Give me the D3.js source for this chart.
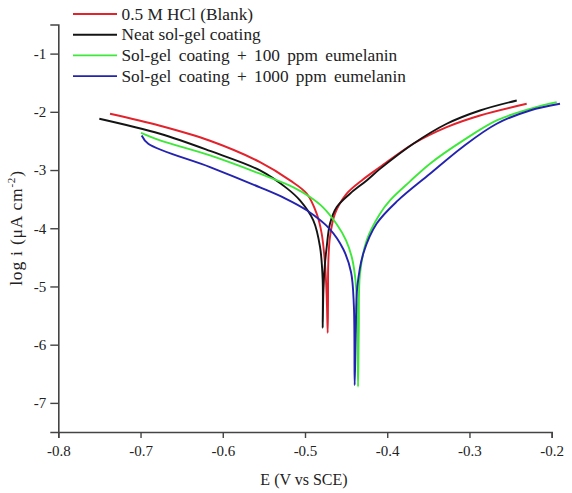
<!DOCTYPE html>
<html>
<head>
<meta charset="utf-8">
<script src="https://cdn.jsdelivr.net/npm/d3@7"></script>
<style>
  body { margin: 0; background: #fff; }
  text { font-family: "Liberation Serif", "Times New Roman", serif; fill: #222; }
</style>
</head>
<body>
<script>
// data: [E (V vs SCE), log i]
var blank = [
  [-0.7371, -2.033], [-0.6763, -2.239], [-0.6155, -2.497], [-0.5547, -2.864],
  [-0.5182, -3.178], [-0.4979, -3.406], [-0.4858, -3.749], [-0.4797, -4.092],
  [-0.4757, -4.606], [-0.4736, -5.179], [-0.4724, -5.797], [-0.472, -5.24],
  [-0.4717, -4.606], [-0.4696, -4.15], [-0.4635, -3.749], [-0.4493, -3.406],
  [-0.431, -3.178], [-0.4088, -2.949], [-0.3683, -2.548], [-0.3277, -2.263],
  [-0.2872, -2.063], [-0.2304, -1.862]
]
var neat = [
  [-0.7501, -2.119], [-0.6763, -2.377], [-0.6155, -2.672], [-0.5547, -3.006],
  [-0.5219, -3.315], [-0.5061, -3.521], [-0.4899, -3.864], [-0.4817, -4.322],
  [-0.4785, -4.893], [-0.4785, -5.711], [-0.4776, -5.064], [-0.4759, -4.636],
  [-0.4736, -4.322], [-0.4696, -3.92], [-0.4614, -3.636], [-0.4453, -3.406],
  [-0.425, -3.178], [-0.4088, -2.98], [-0.3683, -2.548], [-0.3277, -2.205],
  [-0.2872, -1.977], [-0.2425, -1.805]
]
var eu100 = [
  [-0.6994, -2.363], [-0.6763, -2.491], [-0.6155, -2.749], [-0.5547, -3.063],
  [-0.5146, -3.292], [-0.4939, -3.464], [-0.4781, -3.641], [-0.4614, -3.932],
  [-0.4501, -4.207], [-0.4428, -4.515], [-0.4386, -4.893], [-0.4364, -5.464],
  [-0.4355, -6.723], [-0.4346, -5.75], [-0.4331, -4.778], [-0.425, -4.207],
  [-0.4088, -3.749], [-0.3966, -3.521], [-0.3723, -3.195], [-0.348, -2.891],
  [-0.3075, -2.491], [-0.2669, -2.148], [-0.2264, -1.948], [-0.1939, -1.834]
]
var eu1000 = [
  [-0.6986, -2.406], [-0.6906, -2.548], [-0.6155, -2.949], [-0.5547, -3.298],
  [-0.5243, -3.486], [-0.4979, -3.692], [-0.4696, -4.018], [-0.4534, -4.361],
  [-0.444, -4.756], [-0.4406, -5.322], [-0.4396, -6.694], [-0.4382, -5.75],
  [-0.4364, -5.008], [-0.4291, -4.435], [-0.4128, -3.92], [-0.3869, -3.521],
  [-0.348, -3.063], [-0.3075, -2.594], [-0.2669, -2.205], [-0.2264, -1.977],
  [-0.1899, -1.862]
]
var seriesNames = ["0.5 M HCl (Blank)", "Neat sol-gel coating",
  "Sol-gel coating + 100 ppm eumelanin", "Sol-gel coating + 1000 ppm eumelanin"]
var seriesColors = ["#e3222c", "#141414", "#3ee83a", "#2323b0"]
var seriesData = [blank, neat, eu100, eu1000]
var xTicks = [-0.8, -0.7, -0.6, -0.5, -0.4, -0.3, -0.2]
var yTicks = [-7, -6, -5, -4, -3, -2, -1]

var width = 572, height = 493

var svg = d3.select("body").append("svg")
  .attr("width", width)
  .attr("height", height)

var x = d3.scaleLinear().domain([-0.8, -0.2]).range([58.3, 551.7])
var y = d3.scaleLinear().domain([-7.5, -0.5]).range([432, 24.5])

var axisColor = "#444"

// minor ticks first, then the major axis over them
var gx = svg.append("g").attr("transform", "translate(0," + y(-7.5) + ")")
gx.call(d3.axisBottom(x).tickValues(d3.range(-0.75, -0.2, 0.1)).tickSize(3).tickFormat(""))
gx.call(d3.axisBottom(x).tickValues(xTicks).tickSize(6).tickPadding(7)
  .tickFormat(function(d) { return "-" + Math.abs(d).toFixed(1) }))
gx.selectAll(".domain").attr("stroke", axisColor).attr("stroke-width", 1.6)
gx.selectAll("line").attr("stroke", axisColor).attr("stroke-width", 1.4)
gx.selectAll("text").style("font-size", "15px").attr("fill", "#222")

var gy = svg.append("g").attr("transform", "translate(" + x(-0.8) + ",0)")
gy.call(d3.axisLeft(y).tickValues(d3.range(-7.5, -0.4, 1)).tickSize(3).tickFormat(""))
gy.call(d3.axisLeft(y).tickValues(yTicks).tickSize(8).tickPadding(4)
  .tickFormat(function(d) { return "-" + Math.abs(d) }))
gy.selectAll(".domain").attr("stroke", axisColor).attr("stroke-width", 1.6)
gy.selectAll("line").attr("stroke", axisColor).attr("stroke-width", 1.4)
gy.selectAll("text").style("font-size", "15px").attr("fill", "#222")

// axis titles
svg.append("text")
  .attr("x", 304).attr("y", 485)
  .attr("text-anchor", "middle")
  .style("font-size", "16px")
  .text("E (V vs SCE)")

var yt = svg.append("text")
  .attr("transform", "translate(22,228) rotate(-90)")
  .attr("text-anchor", "middle")
  .style("font-size", "17.5px")
  .style("letter-spacing", "0.8px")
yt.append("tspan").text("log i (\u03bcA cm")
yt.append("tspan").attr("dy", -7).style("font-size", "11px").text("-2")
yt.append("tspan").attr("dy", 7).text(")")

// curves
var line = d3.line()
  .x(function(d) { return x(d[0]) })
  .y(function(d) { return y(d[1]) })
  .curve(d3.curveCatmullRom.alpha(0.5))

svg.selectAll(".curve")
  .data(seriesData)
  .enter().append("path")
  .attr("class", "curve")
  .attr("fill", "none")
  .attr("stroke", function(d, i) { return seriesColors[i] })
  .attr("stroke-width", 1.9)
  .attr("stroke-linejoin", "round")
  .attr("d", line)

// legend
var rows = svg.append("g").selectAll("g").data(seriesNames).enter().append("g")
  .attr("transform", function(d, i) { return "translate(73," + (14 + i * 20.7) + ")" })
rows.append("line")
  .attr("x1", 0).attr("x2", 44)
  .attr("stroke", function(d, i) { return seriesColors[i] })
  .attr("stroke-width", 1.9)
rows.append("text")
  .attr("x", 48.5).attr("dy", "0.33em")
  .style("font-size", "17.3px")
  .style("word-spacing", function(d) { return d.indexOf("+") >= 0 ? "3px" : null })
  .text(function(d) { return d })
</script>
</body>
</html>
